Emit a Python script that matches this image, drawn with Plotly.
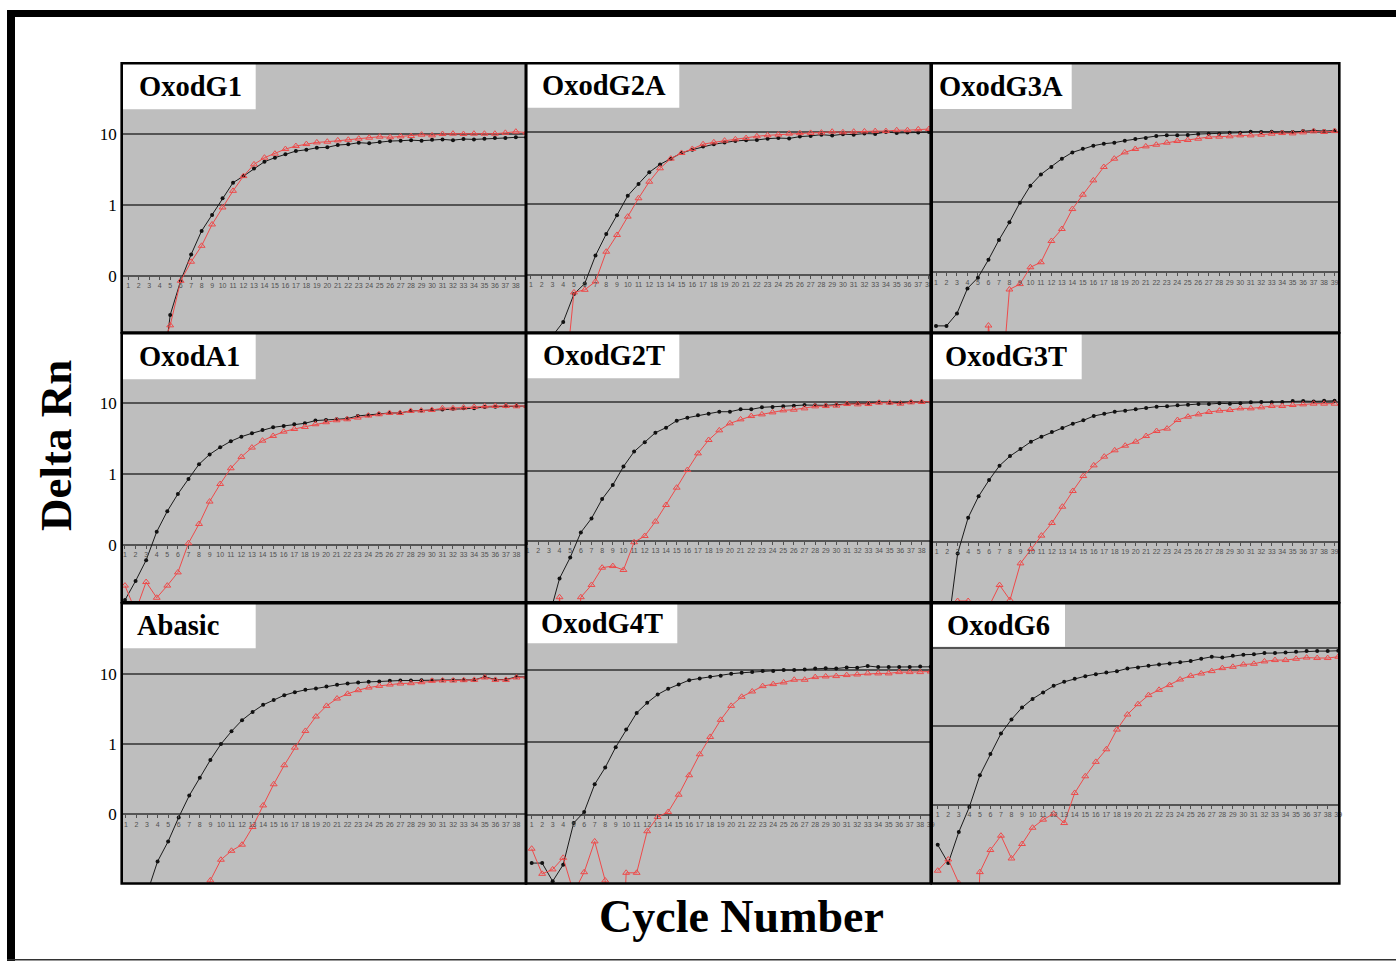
import plotly.graph_objects as go

# ---------------- data (Delta Rn per cycle, 1..39) ----------------
cycles = list(range(1, 40))
cycle_labels = [str(c) for c in cycles]
panel_names = ["OxodG1", "OxodG2A", "OxodG3A",
               "OxodA1", "OxodG2T", "OxodG3T",
               "Abasic", "OxodG4T", "OxodG6"]
ytick_vals = [0.1, 1, 10]
ytick_text = ["0", "1", "10"]

g1_black = [0.001, 0.001, 0.001, 0.0017, 0.028, 0.085, 0.20, 0.43, 0.72, 1.24,
            2.06, 2.55, 3.27, 4.07, 4.64, 5.17, 5.75, 6.0, 6.4, 6.5,
            7.0, 7.15, 7.55, 7.4, 7.7, 7.96, 8.05, 8.2, 8.05, 8.3,
            8.4, 8.2, 8.5, 8.4, 8.6, 8.8, 8.8, 9.0, 9.0]
g1_red = [0.001, 0.001, 0.002, 0.008, 0.020, 0.085, 0.158, 0.265, 0.53, 0.92,
          1.58, 2.55, 3.73, 4.64, 5.28, 6.14, 6.77, 7.22, 7.62, 7.8,
          8.14, 8.3, 8.6, 8.88, 9.17, 9.0, 9.27, 9.37, 9.8, 9.57,
          10.0, 10.1, 10.0, 10.1, 10.1, 10.1, 10.4, 10.8, 10.5]

g2a_black = [0.002, 0.005, 0.014, 0.022, 0.054, 0.076, 0.187, 0.376, 0.69, 1.29,
             1.89, 2.75, 3.55, 4.27, 5.13, 5.71, 6.3, 6.8, 7.17, 7.57,
             7.73, 7.8, 8.15, 8.3, 8.2, 8.7, 8.9, 9.27, 9.0, 9.4,
             9.27, 9.6, 9.5, 10.1, 9.8, 9.9, 9.9, 10.1, 10.1]
g2a_red = [0.001, 0.001, 0.001, 0.0018, 0.057, 0.062, 0.081, 0.212, 0.364, 0.658,
           1.19, 2.03, 3.13, 4.27, 5.13, 5.84, 6.8, 7.24, 7.64, 7.98,
           8.3, 8.79, 9.07, 9.27, 9.58, 9.7, 9.8, 9.9, 10.2, 10.0,
           10.2, 10.3, 10.4, 10.4, 10.7, 10.7, 11.0, 11.1, 11.1]

g3a_black = [0.0173, 0.0173, 0.026, 0.059, 0.084, 0.151, 0.288, 0.514, 0.98, 1.71,
             2.47, 3.15, 4.13, 5.08, 5.73, 6.32, 6.75, 6.98, 7.45, 7.87,
             8.13, 8.68, 8.87, 8.87, 8.97, 9.27, 9.37, 9.37, 9.68, 9.68,
             10.0, 9.9, 10.0, 9.9, 9.9, 10.2, 10.4, 10.2, 10.4]
g3a_red = [0.001, 0.001, 0.001, 0.001, 0.00001, 0.0175, 0.0008, 0.057, 0.068, 0.118,
           0.139, 0.279, 0.413, 0.794, 1.27, 2.03, 3.15, 4.13, 5.08, 5.68,
           6.18, 6.53, 6.98, 7.37, 7.62, 7.95, 8.4, 8.5, 8.6, 8.87,
           8.87, 9.07, 9.37, 9.57, 9.47, 9.78, 10.1, 9.9, 10.2]

a1_black = [0.0167, 0.031, 0.061, 0.154, 0.30, 0.525, 0.855, 1.38, 1.9, 2.39,
            2.91, 3.38, 3.77, 4.2, 4.58, 4.79, 5.05, 5.22, 5.7, 5.82,
            5.95, 6.08, 6.63, 6.78, 7.07, 7.3, 7.3, 7.8, 7.9, 8.05,
            8.15, 8.4, 8.5, 8.5, 8.87, 8.97, 9.07, 9.17, 9.17]
a1_red = [0.0267, 0.0116, 0.030, 0.018, 0.0267, 0.041, 0.106, 0.198, 0.41, 0.726,
          1.21, 1.75, 2.37, 2.97, 3.46, 3.98, 4.34, 4.63, 5.06, 5.4,
          5.76, 5.95, 6.28, 6.7, 7.0, 7.3, 7.3, 7.8, 7.9, 8.05,
          8.5, 8.5, 8.7, 8.87, 9.07, 9.17, 9.17, 9.07, 9.17]

g2t_black = [0.003, 0.004, 0.008, 0.029, 0.058, 0.133, 0.211, 0.40, 0.637, 1.17,
             1.92, 2.61, 3.59, 4.24, 5.34, 5.89, 6.37, 6.73, 7.18, 7.18,
             7.76, 7.76, 8.3, 8.4, 8.57, 8.77, 8.96, 8.86, 8.86, 9.06,
             9.36, 9.47, 9.47, 9.78, 9.67, 9.67, 9.9, 9.9, 10.0]
g2t_red = [0.002, 0.002, 0.0001, 0.0156, 0.0001, 0.0156, 0.0234, 0.0414, 0.0437, 0.0384,
           0.096, 0.118, 0.19, 0.329, 0.583, 1.045, 1.81, 2.82, 3.88, 4.89,
           5.58, 6.22, 6.58, 7.03, 7.51, 7.68, 8.02, 8.57, 8.66, 8.77,
           9.26, 9.16, 9.26, 9.67, 9.67, 9.36, 9.78, 9.9, 10.1]

g3t_black = [0.002, 0.0048, 0.068, 0.22, 0.445, 0.76, 1.22, 1.67, 2.11, 2.68,
             3.16, 3.69, 4.21, 4.85, 5.41, 6.24, 6.74, 7.2, 7.44, 7.77,
             8.12, 8.49, 8.58, 8.87, 9.06, 9.26, 9.26, 9.47, 9.36, 9.47,
             9.78, 9.9, 9.78, 9.9, 10.2, 10.2, 10.1, 10.3, 10.3]
g3t_red = [0.004, 0.004, 0.0142, 0.0142, 0.005, 0.012, 0.024, 0.0147, 0.049, 0.0785,
           0.122, 0.185, 0.316, 0.53, 0.867, 1.23, 1.64, 2.02, 2.35, 2.68,
           3.23, 3.81, 4.12, 5.47, 6.11, 6.59, 7.12, 7.44, 7.6, 8.03,
           8.03, 8.3, 8.67, 8.67, 8.96, 9.16, 9.36, 9.36, 9.36]

abasic_black = [0.001, 0.002, 0.0075, 0.0214, 0.0412, 0.0906, 0.185, 0.333, 0.594, 1.0,
                1.52, 2.19, 2.87, 3.62, 4.26, 4.96, 5.48, 5.92, 6.18, 6.6,
                6.97, 7.28, 7.52, 7.69, 7.78, 7.95, 8.03, 8.03, 8.12, 8.12,
                8.2, 8.2, 8.2, 8.2, 9.06, 8.3, 8.3, 9.06, 9.06]
abasic_red = [0.002, 0.002, 0.002, 0.002, 0.002, 0.002, 0.002, 0.003, 0.0115, 0.0226,
              0.0303, 0.037, 0.066, 0.134, 0.268, 0.5, 0.89, 1.54, 2.47, 3.5,
              4.45, 5.19, 5.85, 6.38, 6.74, 7.04, 7.28, 7.36, 7.6, 7.95,
              8.03, 8.03, 8.12, 8.2, 8.86, 8.2, 8.2, 8.86, 9.06]

g4t_black = [0.0214, 0.0214, 0.012, 0.0203, 0.0767, 0.109, 0.263, 0.448, 0.857, 1.51,
             2.56, 3.53, 4.6, 5.51, 6.33, 7.26, 7.67, 8.09, 8.35, 8.9,
             9.18, 9.38, 9.69, 9.69, 10.0, 10.0, 10.2, 10.5, 10.6, 10.5,
             10.9, 10.8, 11.4, 11.0, 11.0, 11.0, 11.0, 11.2, 11.1]
g4t_red = [0.0338, 0.0152, 0.0175, 0.0253, 0.0083, 0.016, 0.0427, 0.0123, 0.00001, 0.0157,
           0.0157, 0.059, 0.093, 0.109, 0.189, 0.351, 0.685, 1.19, 2.05, 3.2,
           4.27, 5.06, 6.0, 6.4, 6.75, 7.35, 7.35, 8.0, 8.17, 8.26,
           8.53, 8.7, 9.0, 9.0, 9.0, 9.38, 9.38, 9.38, 9.55]

g6_black = [0.0308, 0.018, 0.0448, 0.0933, 0.237, 0.443, 0.806, 1.22, 1.73, 2.23,
            2.69, 3.27, 3.68, 4.02, 4.35, 4.61, 4.84, 5.03, 5.45, 5.61,
            5.89, 6.12, 6.31, 6.56, 6.76, 7.24, 7.68, 7.5, 7.9, 8.15,
            8.24, 8.55, 8.55, 8.72, 8.9, 9.07, 9.07, 9.07, 9.16]
g6_red = [0.0144, 0.02, 0.01, 0.00001, 0.0138, 0.0264, 0.0402, 0.0206, 0.0315, 0.0508,
          0.0644, 0.0767, 0.0583, 0.141, 0.23, 0.351, 0.508, 0.906, 1.41, 1.91,
          2.49, 2.91, 3.34, 3.94, 4.39, 4.7, 5.04, 5.5, 5.72, 6.12,
          6.25, 6.7, 6.97, 6.97, 7.24, 7.5, 7.4, 7.4, 7.68]

black_series = [g1_black, g2a_black, g3a_black, a1_black, g2t_black, g3t_black,
                abasic_black, g4t_black, g6_black]
red_series = [g1_red, g2a_red, g3a_red, a1_red, g2t_red, g3t_red,
              abasic_red, g4t_red, g6_red]

# ---------------- layout geometry (pixels) ----------------
W, H = 1396, 961
col_px = [(121.7, 526.0), (526.0, 930.7), (931.7, 1339.3)]
row_px = [(63.3, 332.5), (333.3, 602.3), (603.3, 883.5)]
y_ranges = [(-1.80, 1.998), (-1.806, 1.967), (-1.856, 1.973),
            (-1.809, 1.988), (-1.88, 1.982), (-1.866, 1.977),
            (-1.984, 2.004), (-1.952, 1.924), (-2.005, 1.567)]
x_ranges = [(0.37, 38.97), (0.54, 38.16), (0.59, 39.45),
            (0.69, 38.9), (0.85, 38.85), (0.52, 39.45),
            (0.6, 38.9), (0.46, 39.0), (0.43, 39.1)]
title_boxes = [(121.7, 255.7, 63.3, 109.3), (527.3, 679.3, 63.3, 107.7), (932.7, 1071.7, 63.3, 109.0),
               (121.7, 255.7, 333.3, 379.3), (527.3, 679.3, 333.3, 378.3), (932.7, 1081.7, 333.3, 379.3),
               (121.7, 255.7, 603.3, 648.3), (527.3, 677.3, 603.3, 643.3), (932.3, 1065.0, 603.3, 646.7)]
title_text_x = [136.7, 540.0, 937.0, 136.7, 540.7, 942.7, 135.0, 539.3, 945.0]


def fx(p):
    return p / W


def fy(p):
    return 1 - p / H


SERIF = "Liberation Serif, Times New Roman, serif"
RED = "#EE4A4A"

fig = go.Figure()
shapes = []
annotations = []
layout_axes = {}

for i in range(9):
    r, c = divmod(i, 3)
    sfx = "" if i == 0 else str(i + 1)
    xa, ya = "x" + sfx, "y" + sfx
    xd = [fx(col_px[c][0]), fx(col_px[c][1])]
    yd = [fy(row_px[r][1]), fy(row_px[r][0])]
    lo, hi = y_ranges[i]
    pos01 = yd[0] + ((-1) - lo) / (hi - lo) * (yd[1] - yd[0])

    fig.add_trace(go.Scatter(
        x=cycles, y=black_series[i], mode="lines+markers", xaxis=xa, yaxis=ya,
        line=dict(color="#1a1a1a", width=1),
        marker=dict(symbol="circle", size=4, color="#111111"),
        showlegend=False, hoverinfo="skip"))
    fig.add_trace(go.Scatter(
        x=cycles, y=red_series[i], mode="lines+markers", xaxis=xa, yaxis=ya,
        line=dict(color=RED, width=1),
        marker=dict(symbol="triangle-up-open", size=6, color=RED,
                    line=dict(width=1, color=RED)),
        showlegend=False, hoverinfo="skip"))

    layout_axes["xaxis" + sfx] = dict(
        domain=xd, range=list(x_ranges[i]), anchor="free", position=pos01,
        tickmode="array", tickvals=cycles, ticktext=cycle_labels,
        tickfont=dict(size=7, color="#505050", family="Liberation Sans, Arial"),
        ticks="outside", ticklen=3, tickwidth=1, tickcolor="#505050",
        showgrid=False, zeroline=False, showline=False, automargin=False,
        fixedrange=True)
    layout_axes["yaxis" + sfx] = dict(
        domain=yd, type="log", range=[lo, hi], anchor=xa,
        tickmode="array", tickvals=ytick_vals, ticktext=ytick_text,
        showticklabels=(c == 0), ticklabelstandoff=4,
        tickfont=dict(size=17, color="black", family=SERIF),
        ticks="", showgrid=True, gridcolor="#545454", gridwidth=1.5,
        zeroline=False, showline=False, automargin=False, fixedrange=True)

    # title box
    bx0, bx1, by0, by1 = title_boxes[i]
    shapes.append(dict(type="rect", xref="paper", yref="paper",
                       x0=fx(bx0), x1=fx(bx1), y0=fy(by1), y1=fy(by0),
                       fillcolor="white", line=dict(width=0), layer="above"))
    annotations.append(dict(text="<b>%s</b>" % panel_names[i], xref="paper", yref="paper",
                            x=fx(title_text_x[i]), y=fy((by0 + by1) / 2),
                            xanchor="left", yanchor="middle", showarrow=False,
                            font=dict(family=SERIF, size=28.5, color="black")))

# panel frames
for i in range(9):
    sfx = "" if i == 0 else str(i + 1)
    shapes.append(dict(type="rect", xref="x%s domain" % sfx, yref="y%s domain" % sfx,
                       x0=0, x1=1, y0=0, y1=1, line=dict(color="black", width=2.6),
                       fillcolor="rgba(0,0,0,0)", layer="above"))

# outer page frame
shapes.append(dict(type="rect", xref="paper", yref="paper", x0=fx(7), x1=1.0,
                   y0=fy(17), y1=fy(10), fillcolor="black", line=dict(width=0)))
shapes.append(dict(type="rect", xref="paper", yref="paper", x0=fx(7), x1=fx(15),
                   y0=0.0, y1=fy(10), fillcolor="black", line=dict(width=0)))
shapes.append(dict(type="line", xref="paper", yref="paper", x0=fx(7), x1=1.0,
                   y0=fy(959.8), y1=fy(959.8), line=dict(color="#333333", width=1.5)))

annotations.append(dict(text="<b>Delta Rn</b>", xref="paper", yref="paper",
                        x=fx(56), y=fy(446), textangle=-90, showarrow=False,
                        xanchor="center", yanchor="middle",
                        font=dict(family=SERIF, size=45, color="black")))
annotations.append(dict(text="<b>Cycle Number</b>", xref="paper", yref="paper",
                        x=fx(741), y=fy(916), showarrow=False,
                        xanchor="center", yanchor="middle",
                        font=dict(family=SERIF, size=46, color="black")))

fig.update_layout(
    width=W, height=H, margin=dict(l=0, r=0, t=0, b=0),
    paper_bgcolor="white", plot_bgcolor="#BEBEBE",
    shapes=shapes, annotations=annotations, showlegend=False,
    **layout_axes)

fig.write_html("out.html", config={"displayModeBar": False},
               post_script="document.body.style.margin='0px';document.body.style.overflow='hidden';")
